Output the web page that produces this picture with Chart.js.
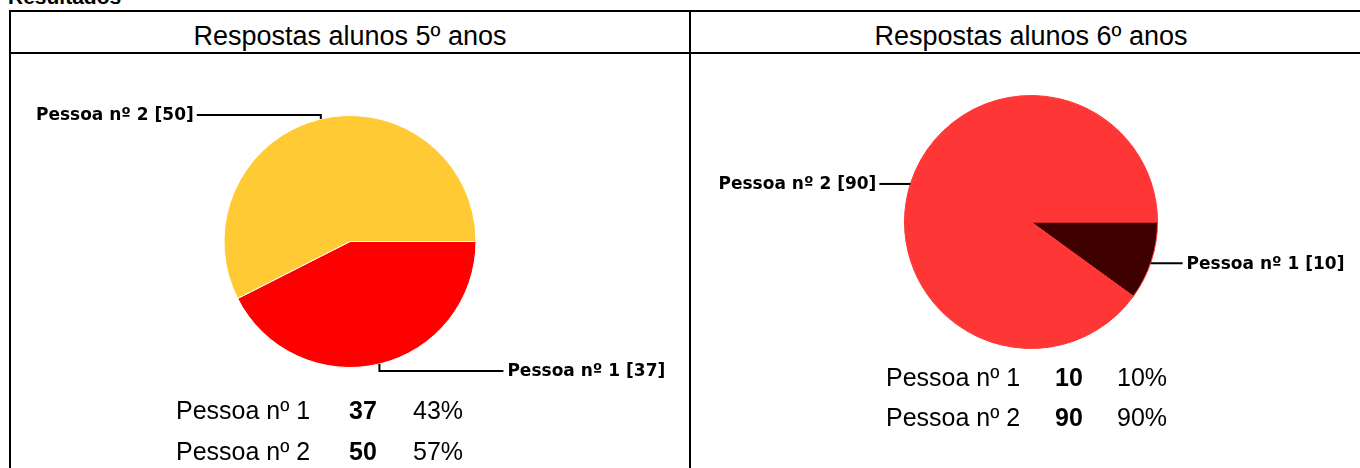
<!DOCTYPE html>
<html>
<head>
<meta charset="utf-8">
<script src="https://cdn.jsdelivr.net/npm/chart.js@4"></script>
<style>
  html, body { margin:0; padding:0; background:#fff; }
  body { width:1360px; height:468px; overflow:hidden; position:relative; font-family:"Liberation Sans", Arial, sans-serif; color:#000; }
  .abs { position:absolute; white-space:nowrap; }
  .line { position:absolute; background:#000; }
  .title { font-size:27px; text-align:center; line-height:43px; height:43px; }
  .row { font-size:25px; line-height:30px; height:30px; }
  .b { font-weight:bold; }
  canvas { position:absolute; }
</style>
</head>
<body>
<div class="abs b" style="left:8px; top:-13px; font-size:21px; line-height:20px;">Resultados</div>

<!-- table grid -->
<div class="line" style="left:9px; top:10px; width:1370px; height:2px;"></div>
<div class="line" style="left:9px; top:52px; width:1370px; height:2px;"></div>
<div class="line" style="left:9px; top:10px; width:2px; height:470px;"></div>
<div class="line" style="left:689px; top:10px; width:2px; height:470px;"></div>

<div id="title1" class="abs title" style="left:11px; width:678px; top:15px;"></div>
<div id="title2" class="abs title" style="left:691px; width:680px; top:15px;"></div>

<canvas id="c1" width="676" height="373" style="left:12px; top:55px;"></canvas>
<canvas id="c2" width="664" height="334" style="left:694px; top:55px;"></canvas>

<div id="tbl1"></div>
<div id="tbl2"></div>

<script>
// ---- data ----
const titles = ["Respostas alunos 5º anos", "Respostas alunos 6º anos"];
const categories = ["Pessoa nº 1", "Pessoa nº 2"];
const values5 = [37, 50];
const values6 = [10, 90];
const colors5 = ["#FF0000", "#FFCA33"];
const colors6 = ["#3F0000", "#FF3636"];

document.getElementById('title1').textContent = titles[0];
document.getElementById('title2').textContent = titles[1];

function pct(vals, i) {
  const t = vals.reduce((a, b) => a + b, 0);
  return Math.round(vals[i] / t * 100) + '%';
}

function buildTable(elId, vals, xLabel, xVal, xPct, yRows) {
  const host = document.getElementById(elId);
  categories.forEach((c, i) => {
    const top = yRows[i] - 15;
    const mk = (txt, x, bold) => {
      const d = document.createElement('div');
      d.className = 'abs row' + (bold ? ' b' : '');
      d.style.left = x + 'px';
      d.style.top = top + 'px';
      d.textContent = txt;
      host.appendChild(d);
    };
    mk(c, xLabel, false);
    mk(String(vals[i]), xVal, true);
    mk(pct(vals, i), xPct, false);
  });
}
buildTable('tbl1', values5, 176, 349, 413, [410, 451]);
buildTable('tbl2', values6, 886, 1055, 1117, [377, 417]);

const calloutPlugin = {
  id: 'callouts',
  afterDraw(chart, args, opts) {
    const ctx = chart.ctx;
    const meta = chart.getDatasetMeta(0);
    const p = meta.data[0].getProps(['x', 'y', 'outerRadius'], true);
    ctx.save();
    ctx.strokeStyle = '#000';
    ctx.fillStyle = '#000';
    ctx.lineWidth = 2;
    ctx.font = 'bold 17px "DejaVu Sans", sans-serif';
    ctx.textBaseline = 'middle';
    (opts.items || []).forEach(it => {
      const i = it.index;
      const label = chart.data.labels[i] + ' [' + chart.data.datasets[0].data[i] + ']';
      const a = it.angle * Math.PI / 180;
      const px = p.x + p.outerRadius * Math.cos(a);
      const py = p.y + p.outerRadius * Math.sin(a);
      let ex = px, ey = py;
      ctx.beginPath();
      ctx.moveTo(px, py);
      if (it.rise) { ey = py + it.rise; ctx.lineTo(ex, ey); }
      ex = ex + it.run;
      ctx.lineTo(ex, ey);
      ctx.stroke();
      ctx.textAlign = it.run < 0 ? 'right' : 'left';
      ctx.fillText(label, ex + (it.run < 0 ? -3 : 4), ey + 1);
    });
    ctx.restore();
  }
};

function makePie(id, vals, cols, border, padding, items) {
  return new Chart(document.getElementById(id), {
    type: 'pie',
    data: {
      labels: categories,
      datasets: [{
        data: vals,
        backgroundColor: cols,
        borderColor: border,
        borderWidth: 1
      }]
    },
    options: {
      responsive: false,
      animation: false,
      rotation: 90,
      layout: { padding: padding },
      plugins: {
        legend: { display: false },
        tooltip: { enabled: false },
        callouts: { items: items }
      }
    },
    plugins: [calloutPlugin]
  });
}

makePie('c1', values5, colors5, '#FFFFFF',
  { left: 211, right: 211, top: 60, bottom: 60 },
  [ { index: 1, angle: -103.4, rise: -4, run: -124 },
    { index: 0, angle: 76.5, rise: 7, run: 124 } ]);

makePie('c2', values6, colors6, '#FF3636',
  { left: 210, right: 200, top: 40, bottom: 40 },
  [ { index: 1, angle: 197.5, rise: 0, run: -31 },
    { index: 0, angle: 19, rise: 0, run: 32 } ]);
</script>
</body>
</html>
